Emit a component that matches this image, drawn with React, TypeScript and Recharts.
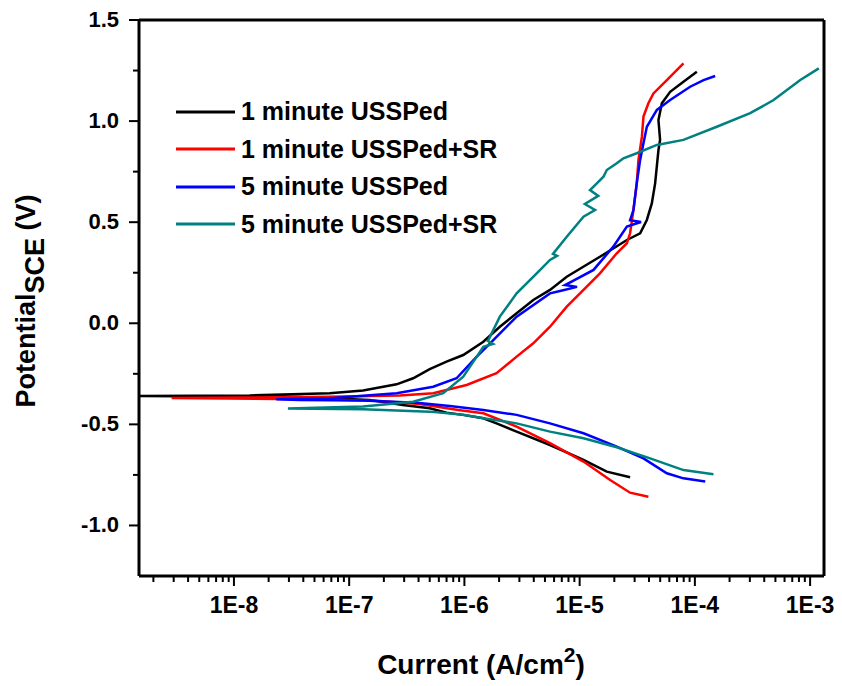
import { LineChart, Line, XAxis, YAxis, ReferenceLine, Legend } from "recharts";

const FONT = "'Liberation Sans', Arial, Helvetica, sans-serif";

// axis ranges
const X_MIN = 1.5e-9;
const X_MAX = 1.32e-3;
const Y_MIN = -1.25;
const Y_MAX = 1.5;

const currentTicks = [1e-8, 1e-7, 1e-6, 1e-5, 1e-4, 1e-3];
const currentTickLabels = ["1E-8", "1E-7", "1E-6", "1E-5", "1E-4", "1E-3"];
const potentialTicks = [-1.0, -0.5, 0, 0.5, 1.0, 1.5];
const potentialTickLabels = ["-1.0", "-0.5", "0.0", "0.5", "1.0", "1.5"];
const potentialMinorTicks = [-0.75, -0.25, 0.25, 0.75, 1.25];

// minor log ticks 2..9 in each decade
const currentMinorTicks: number[] = [];
for (let d = -9; d <= -3; d++) {
  for (let m = 2; m <= 9; m++) {
    const v = m * Math.pow(10, d);
    if (v > X_MIN && v < X_MAX) currentMinorTicks.push(v);
  }
}

// 1 minute USSPed (cathodic branch -> Ecorr -> anodic branch)
const min1Current = [
  2.74e-5, 1.72e-5, 1.08e-5, 5.53e-6, 2.84e-6, 1.9e-6, 1.46e-6, 9.7e-7, 7.0e-7, 5.0e-7,
  2.92e-7, 1.51e-7, 3.7e-8, 1.5e-9, 1.37e-8, 6.78e-8, 1.32e-7, 2.58e-7, 3.59e-7, 5.0e-7,
  7.0e-7, 9.77e-7, 1.46e-6, 2.03e-6, 3.96e-6, 5.53e-6, 7.73e-6, 1.5e-5, 2.57e-5, 3.35e-5,
  3.83e-5, 4.23e-5, 4.52e-5, 4.83e-5, 4.99e-5, 4.83e-5, 5.17e-5, 6.1e-5, 7.96e-5, 1.04e-4,
];
const min1Potential = [
  -0.762, -0.734, -0.676, -0.602, -0.536, -0.495, -0.47, -0.453, -0.442, -0.42,
  -0.404, -0.379, -0.365, -0.36, -0.357, -0.346, -0.333, -0.302, -0.272, -0.227,
  -0.19, -0.157, -0.091, -0.017, 0.115, 0.165, 0.23, 0.329, 0.412, 0.445,
  0.511, 0.593, 0.692, 0.857, 0.907, 1.005, 1.088, 1.145, 1.195, 1.244,
];

// 1 minute USSPed+SR
const min1SrCurrent = [
  3.95e-5, 2.74e-5, 1.84e-5, 1.08e-5, 5.53e-6, 2.84e-6, 1.46e-6, 8.83e-7, 4.1e-7, 1.85e-7,
  6.78e-8, 2.88e-9, 1.37e-8, 6.78e-8, 2.75e-7, 5.36e-7, 1.045e-6, 1.9e-6, 2.84e-6, 3.96e-6,
  5.53e-6, 7.73e-6, 1.08e-5, 1.5e-5, 2.1e-5, 2.57e-5, 2.74e-5, 2.93e-5, 3.13e-5, 3.24e-5,
  3.47e-5, 3.58e-5, 3.95e-5, 4.37e-5, 5.71e-5, 7.96e-5,
];
const min1SrPotential = [
  -0.858, -0.838, -0.775, -0.684, -0.593, -0.511, -0.445, -0.429, -0.399, -0.384,
  -0.377, -0.369, -0.367, -0.364, -0.357, -0.346, -0.305, -0.247, -0.165, -0.099,
  -0.017, 0.082, 0.165, 0.247, 0.346, 0.396, 0.445, 0.56, 0.692, 0.808,
  0.923, 1.022, 1.088, 1.137, 1.203, 1.286,
];

// 5 minute USSPed
const min5Current = [
  1.23e-4, 7.96e-5, 5.71e-5, 3.58e-5, 2.1e-5, 1.08e-5, 5.53e-6, 2.84e-6, 1.46e-6, 7.48e-7,
  3.85e-7, 1.32e-7, 3.7e-8, 2.33e-8, 6.78e-8, 2.58e-7, 5.36e-7, 8.55e-7, 1.28e-6, 1.67e-6,
  2.84e-6, 5.53e-6, 6.76e-6, 9.49e-6, 7.47e-6, 1.32e-5, 1.96e-5, 2.57e-5, 3.41e-5, 2.74e-5,
  2.93e-5, 3.13e-5, 3.35e-5, 3.58e-5, 3.83e-5, 4.68e-5, 6.1e-5, 9.1e-5, 1.19e-4, 1.5e-4,
];
const min5Potential = [
  -0.783, -0.767, -0.742, -0.668, -0.61, -0.544, -0.495, -0.453, -0.429, -0.409,
  -0.393, -0.382, -0.379, -0.376, -0.371, -0.346, -0.314, -0.272, -0.165, -0.099,
  0.033, 0.148, 0.16, 0.18, 0.189, 0.264, 0.379, 0.478, 0.501, 0.51,
  0.56, 0.692, 0.808, 0.89, 0.972, 1.055, 1.104, 1.17, 1.203, 1.223,
];

// 5 minute USSPed+SR
const min5SrCurrent = [
  1.45e-4, 7.96e-5, 4.09e-5, 2.1e-5, 1.08e-5, 5.53e-6, 2.84e-6, 1.46e-6, 9.77e-7, 5.0e-7,
  1.32e-7, 2.94e-8, 1.32e-7, 3.59e-7, 6.55e-7, 9.77e-7, 1.28e-6, 1.46e-6, 1.77e-6, 1.6e-6,
  2.03e-6, 2.84e-6, 4.24e-6, 5.53e-6, 6.37e-6, 5.87e-6, 7.73e-6, 1.08e-5, 1.36e-5, 1.11e-5,
  1.45e-5, 1.23e-5, 1.41e-5, 1.61e-5, 1.72e-5, 2.1e-5, 2.4e-5, 3.13e-5, 4.68e-5, 7.96e-5,
  1.55e-4, 3.02e-4, 4.82e-4, 8.22e-4, 1.19e-3,
];
const min5SrPotential = [
  -0.747, -0.726, -0.668, -0.613, -0.569, -0.536, -0.495, -0.47, -0.453, -0.437,
  -0.425, -0.422, -0.412, -0.388, -0.346, -0.264, -0.165, -0.116, -0.102, -0.088,
  0.033, 0.148, 0.247, 0.313, 0.333, 0.343, 0.428, 0.527, 0.56, 0.59,
  0.63, 0.659, 0.692, 0.725, 0.758, 0.791, 0.816, 0.841, 0.882, 0.907,
  0.972, 1.039, 1.104, 1.203, 1.261,
];

const seriesNames = ["1 minute USSPed", "1 minute USSPed+SR", "5 minute USSPed", "5 minute USSPed+SR"];
const seriesColors = ["#000000", "#ff0000", "#0000ff", "#008080"];

const toPoints = (current: number[], potential: number[]) =>
  current.map((c, i) => ({ current: c, potential: potential[i] }));

const series = [
  toPoints(min1Current, min1Potential),
  toPoints(min1SrCurrent, min1SrPotential),
  toPoints(min5Current, min5Potential),
  toPoints(min5SrCurrent, min5SrPotential),
].map((data, i) => ({ name: seriesNames[i], color: seriesColors[i], data }));

function CurrentTick(props: any) {
  const { x, y, payload } = props;
  const idx = currentTicks.findIndex((t) => Math.abs(t - payload.value) / t < 1e-6);
  const major = idx >= 0;
  return (
    <g>
      <line x1={x} x2={x} y1={y} y2={y + (major ? 10 : 6)} stroke="#000" strokeWidth={2} />
      {major && (
        <text x={x} y={y + 37} textAnchor="middle" fontSize={23} fontWeight="bold" fontFamily={FONT} fill="#000">
          {currentTickLabels[idx]}
        </text>
      )}
    </g>
  );
}

function PotentialTick(props: any) {
  const { x, y, payload } = props;
  const idx = potentialTicks.findIndex((t) => Math.abs(t - payload.value) < 1e-6);
  const major = idx >= 0;
  return (
    <g>
      <line x1={x - (major ? 10 : 6)} x2={x} y1={y} y2={y} stroke="#000" strokeWidth={2} />
      {major && (
        <text x={x - 20} y={y + 7} textAnchor="end" fontSize={22} fontWeight="bold" fontFamily={FONT} fill="#000">
          {potentialTickLabels[idx]}
        </text>
      )}
    </g>
  );
}

const CurrentLabel = () => (
  <text x={481} y={674} textAnchor="middle" fontSize={28} fontWeight="bold" fontFamily={FONT} fill="#000">
    <tspan>Current (A/cm</tspan>
    <tspan dy={-12} fontSize={21}>2</tspan>
    <tspan dy={12}>)</tspan>
  </text>
);

const PotentialLabel = () => (
  <text
    transform="rotate(-90)"
    x={-301}
    y={35}
    textAnchor="middle"
    fontSize={27}
    fontWeight="bold"
    fontFamily={FONT}
    fill="#000"
  >
    <tspan>Potential</tspan>
    <tspan dy={9}>SCE</tspan>
    <tspan dy={-9}> (V)</tspan>
  </text>
);

const LegendBox = () => (
  <div style={{ fontFamily: FONT, fontWeight: "bold", fontSize: 25, color: "#000" }}>
    {series.map((s) => (
      <div key={s.name} style={{ display: "flex", alignItems: "center", height: 37.5 }}>
        <svg width={59} height={6} style={{ marginRight: 6 }}>
          <line x1={0} x2={59} y1={3} y2={3} stroke={s.color} strokeWidth={3} />
        </svg>
        <span>{s.name}</span>
      </div>
    ))}
  </div>
);

export default function App() {
  return (
    <div style={{ position: "absolute", left: 0, top: 0, width: 842, height: 686, background: "#fff" }}>
      <LineChart width={842} height={686} margin={{ top: 20, right: 18, bottom: 0, left: 0 }}>
        <XAxis
          dataKey="current"
          type="number"
          scale="log"
          domain={[X_MIN, X_MAX]}
          allowDataOverflow
          ticks={[...currentTicks, ...currentMinorTicks]}
          interval={0}
          tick={CurrentTick}
          tickLine={false}
          tickSize={0}
          tickMargin={0}
          height={110}
          axisLine={{ stroke: "#000", strokeWidth: 3 }}
          label={CurrentLabel}
        />
        <YAxis
          type="number"
          domain={[Y_MIN, Y_MAX]}
          allowDataOverflow
          ticks={[...potentialTicks, ...potentialMinorTicks]}
          interval={0}
          tick={PotentialTick}
          tickLine={false}
          tickSize={0}
          tickMargin={0}
          width={139}
          axisLine={{ stroke: "#000", strokeWidth: 3 }}
          label={PotentialLabel}
        />
        <ReferenceLine y={Y_MAX} stroke="#000" strokeWidth={3} />
        <ReferenceLine x={X_MAX} stroke="#000" strokeWidth={3} />
        <Legend
          layout="vertical"
          align="center"
          verticalAlign="middle"
          wrapperStyle={{ left: 176, top: 93, width: 380 }}
          content={LegendBox}
        />
        {series.map((s) => (
          <Line
            key={s.name}
            name={s.name}
            data={s.data}
            dataKey="potential"
            type="linear"
            stroke={s.color}
            strokeWidth={2.5}
            dot={false}
            isAnimationActive={false}
          />
        ))}
      </LineChart>
    </div>
  );
}
